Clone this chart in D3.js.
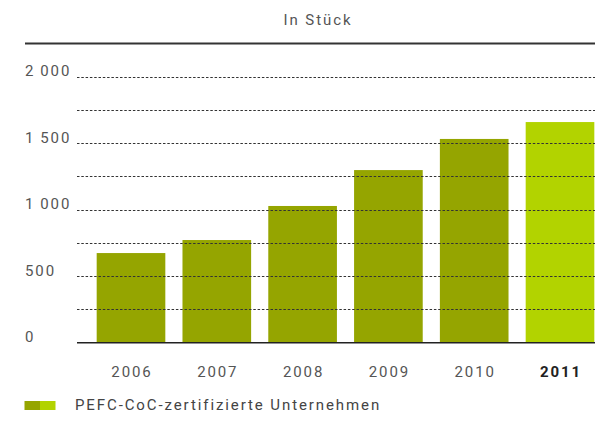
<!DOCTYPE html>
<html>
<head>
<meta charset="utf-8">
<script src="https://cdn.jsdelivr.net/npm/d3@7"></script>
<style>
  body { margin: 0; background: #fff; }
  svg text { font-family: Roboto, "Liberation Sans", sans-serif; letter-spacing: 1.9px; font-size: 15px; }
</style>
</head>
<body>
<svg id="chart" width="595" height="434"></svg>
<script>
"use strict";
// data
var years = [ "2006", "2007", "2008", "2009", "2010", "2011" ];
var companies = [ 674, 772, 1028, 1298, 1532, 1659 ];
var yTicks = [ 0, 500, 1000, 1500, 2000 ];
var gridTicks = [ 250, 500, 750, 1000, 1250, 1500, 1750, 2000 ];
var unitLabel = "In Stück";
var legendLabel = "PEFC-CoC-zertifizierte Unternehmen";

var svg = d3.select( "#chart" );
var dark = "#95a500", light = "#b2d300";

var x = d3.scaleBand()
  .domain( years )
  .range( [ 88.1, 602.9 ] )
  .paddingInner( 0.2 )
  .paddingOuter( 0.1 );

var y = d3.scaleLinear()
  .domain( [ 0, 2000 ] )
  .range( [ 342.7, 76.7 ] );

var fmt = d3.formatLocale( { decimal: ",", thousands: "\u2009", grouping: [ 3 ], currency: [ "", "" ] } ).format( ",d" );

// title + top rule
svg.append( "text" )
  .attr( "x", 318 ).attr( "y", 24.5 )
  .attr( "text-anchor", "middle" )
  .attr( "fill", "#555" )
  .text( unitLabel );

svg.append( "line" )
  .attr( "x1", 25 ).attr( "x2", 595 )
  .attr( "y1", 43.5 ).attr( "y2", 43.5 )
  .attr( "stroke", "#333" ).attr( "stroke-width", 2 );

// bars
svg.append( "g" ).selectAll( "rect" )
  .data( companies )
  .enter().append( "rect" )
  .attr( "x", function( d, i ) { return x( years[i] ); } )
  .attr( "width", x.bandwidth() )
  .attr( "y", function( d ) { return y( d ); } )
  .attr( "height", function( d ) { return y( 0 ) - y( d ); } )
  .attr( "fill", function( d, i ) { return i === years.length - 1 ? light : dark; } );

// dashed grid, drawn over the bars
svg.append( "g" ).selectAll( "line" )
  .data( gridTicks )
  .enter().append( "line" )
  .attr( "x1", 77 ).attr( "x2", 595 )
  .attr( "y1", function( d ) { return Math.round( y( d ) ) + 0.5; } )
  .attr( "y2", function( d ) { return Math.round( y( d ) ) + 0.5; } )
  .attr( "stroke", "#333" )
  .attr( "stroke-width", 1 )
  .attr( "stroke-dasharray", "2.5,1.8" );

// baseline
svg.append( "line" )
  .attr( "x1", 77 ).attr( "x2", 595 )
  .attr( "y1", y( 0 ) ).attr( "y2", y( 0 ) )
  .attr( "stroke", "#222" ).attr( "stroke-width", 1.6 );

// y labels
svg.append( "g" ).selectAll( "text" )
  .data( yTicks )
  .enter().append( "text" )
  .attr( "x", 25 )
  .attr( "y", function( d ) { return y( d ) - 0.5; } )
  .attr( "fill", "#555" )
  .text( function( d ) { return fmt( d ); } );

// x labels
svg.append( "g" ).selectAll( "text" )
  .data( years )
  .enter().append( "text" )
  .attr( "x", function( d ) { return x( d ) + x.bandwidth() / 2 + 1; } )
  .attr( "y", 376.5 )
  .attr( "text-anchor", "middle" )
  .style( "font-weight", function( d, i ) { return i === years.length - 1 ? "bold" : "normal"; } )
  .attr( "fill", function( d, i ) { return i === years.length - 1 ? "#222" : "#555"; } )
  .text( function( d ) { return d; } );

// legend
var lg = svg.append( "g" );
lg.append( "rect" ).attr( "x", 24.5 ).attr( "y", 401 ).attr( "width", 15.5 ).attr( "height", 9 ).attr( "fill", dark );
lg.append( "rect" ).attr( "x", 40 ).attr( "y", 401 ).attr( "width", 15.5 ).attr( "height", 9 ).attr( "fill", light );
lg.append( "text" )
  .attr( "x", 75 ).attr( "y", 409.5 )
  .attr( "fill", "#444" )
  .text( legendLabel );
</script>
</body>
</html>
